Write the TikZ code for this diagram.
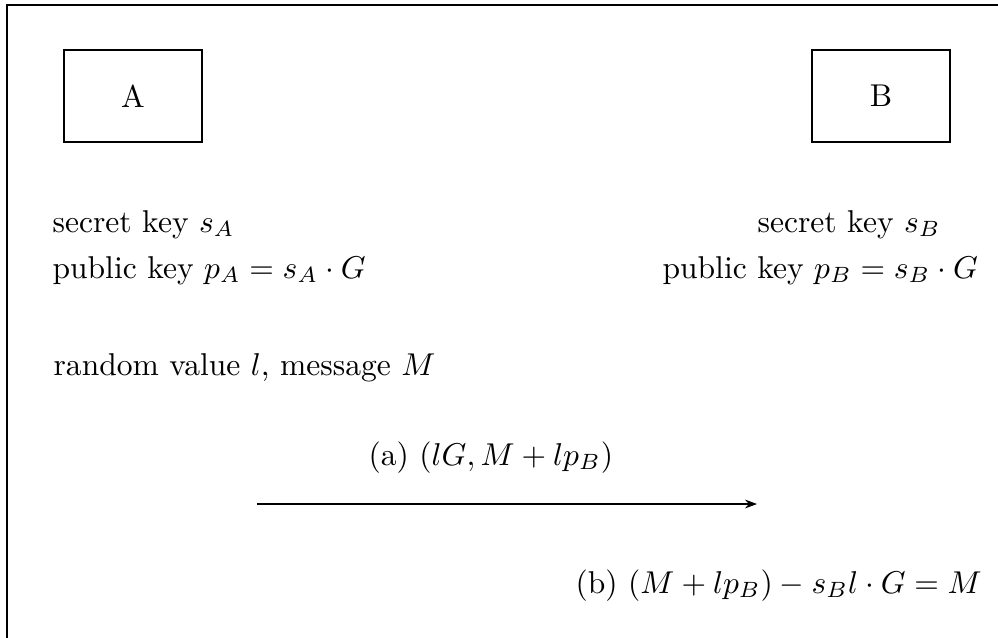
\documentclass[tikz,border=0pt]{standalone}
\usetikzlibrary{arrows.meta}
\tikzset{
  party/.style={draw, minimum width=138*0.317pt, minimum height=92*0.317pt, inner sep=0pt},
  lbl/.style={anchor=base west, inner sep=0pt},
  msg/.style={-{Stealth[length=3.8pt,width=2.8pt]}}
}
\begin{document}
\begin{tikzpicture}[x=0.317pt, y=-0.317pt]
\useasboundingbox (0,0) rectangle (998,637);
\coordinate (f1) at (7,650);
\coordinate (f2) at (7,5);
\coordinate (f3) at (1010,5);
\draw (f1) -- (f2) -- (f3);
\node[party] (A) at (133,96) {A};
\node[party] (B) at (881,96) {B};
\node[lbl] (skA) at (52,232) {secret key $s_A$};
\node[lbl] (pkA) at (52,278) {public key $p_A = s_A\cdot G$};
\node[lbl] (skB) at (757,232) {secret key $s_B$};
\node[lbl] (pkB) at (662,278) {public key $p_B = s_B\cdot G$};
\node[lbl] (rnd) at (53,375) {random value $l$, message $M$};
\node[lbl] (ma) at (368,465) {(a) $(lG, M+lp_B)$};
\node[lbl] (mb) at (575,593) {(b) $(M+lp_B) - s_Bl\cdot G = M$};
\coordinate (s) at (257,504);
\coordinate (e) at (757,504);
\draw[msg] (s) -- (e);
\end{tikzpicture}
\end{document}
